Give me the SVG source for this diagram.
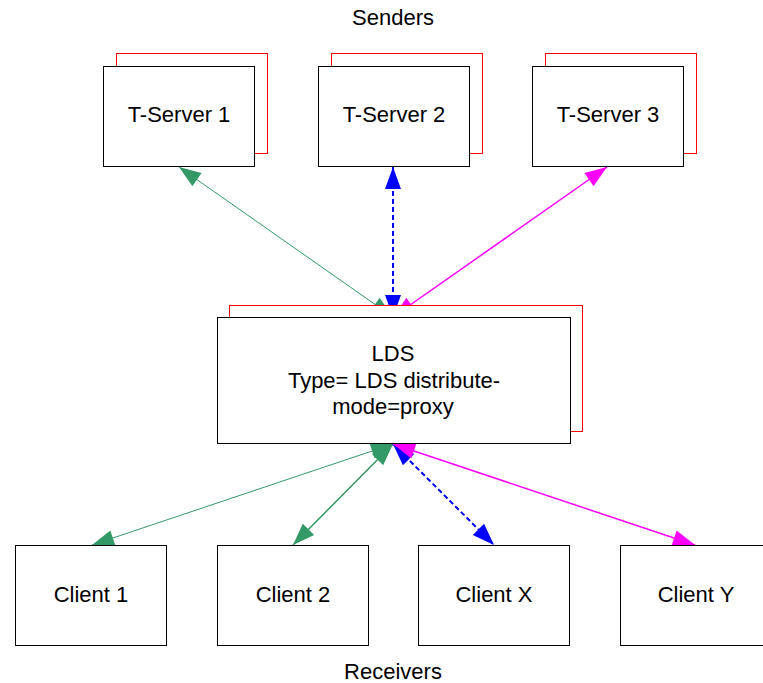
<svg xmlns="http://www.w3.org/2000/svg" width="763" height="683" viewBox="0 0 763 683">
<style>
  text { font-family: "Liberation Sans", Arial, sans-serif; font-size: 22px; fill: #000; text-anchor: middle; }
  .box { fill: #fff; stroke: #000; stroke-width: 1; }
  .shadow { fill: #fff; stroke: #ff0000; stroke-width: 1; }
  .green { stroke: #339966; stroke-width: 1; fill: none; }
  .green2 { stroke: #339966; stroke-width: 1.5; fill: none; }
  .blue { stroke: #0000ff; stroke-width: 2; stroke-dasharray: 5 3; fill: none; }
  .magenta { stroke: #ff00ff; stroke-width: 1.5; fill: none; }
</style>
<defs>
  <marker id="ag" markerUnits="userSpaceOnUse" markerWidth="24" markerHeight="16" viewBox="0 0 22 16" refX="22" refY="8" orient="auto-start-reverse">
    <path d="M0,0 L22,8 L0,16 Z" fill="#339966"/>
  </marker>
  <marker id="ab" markerUnits="userSpaceOnUse" markerWidth="24" markerHeight="16" viewBox="0 0 22 16" refX="22" refY="8" orient="auto-start-reverse">
    <path d="M0,0 L22,8 L0,16 Z" fill="#0000ff"/>
  </marker>
  <marker id="am" markerUnits="userSpaceOnUse" markerWidth="24" markerHeight="16" viewBox="0 0 22 16" refX="22" refY="8" orient="auto-start-reverse">
    <path d="M0,0 L22,8 L0,16 Z" fill="#ff00ff"/>
  </marker>
</defs>
<rect width="763" height="683" fill="#fff"/>
<text x="393" y="25">Senders</text>
<text x="393" y="679">Receivers</text>

<g id="connectors">
  <line class="green" x1="179" y1="167" x2="393" y2="317" marker-start="url(#ag)" marker-end="url(#ag)"/>
  <line class="blue" x1="393" y1="167" x2="393" y2="317" marker-start="url(#ab)" marker-end="url(#ab)"/>
  <line class="magenta" x1="607" y1="167" x2="393" y2="317" marker-start="url(#am)" marker-end="url(#am)"/>
  <line class="green" x1="393" y1="444" x2="92" y2="545" marker-start="url(#ag)" marker-end="url(#ag)"/>
  <line class="green2" x1="393" y1="444" x2="293" y2="545" marker-start="url(#ag)" marker-end="url(#ag)"/>
  <line class="blue" x1="393" y1="444" x2="494" y2="545" marker-start="url(#ab)" marker-end="url(#ab)"/>
  <line class="magenta" x1="393" y1="444" x2="695" y2="545" marker-start="url(#am)" marker-end="url(#am)"/>
</g>

<g id="tserver1">
  <rect class="shadow" x="116.5" y="53.5" width="151" height="100"/>
  <rect class="box" x="103.5" y="66.5" width="151" height="100"/>
  <text x="179" y="122">T-Server 1</text>
</g>
<g id="tserver2">
  <rect class="shadow" x="331.5" y="53.5" width="151" height="100"/>
  <rect class="box" x="318.5" y="66.5" width="151" height="100"/>
  <text x="394" y="122">T-Server 2</text>
</g>
<g id="tserver3">
  <rect class="shadow" x="545.5" y="53.5" width="151" height="100"/>
  <rect class="box" x="532.5" y="66.5" width="151" height="100"/>
  <text x="608" y="122">T-Server 3</text>
</g>

<g id="lds">
  <rect class="shadow" x="229.5" y="305.5" width="353" height="126"/>
  <rect class="box" x="217.5" y="317.5" width="353" height="126"/>
  <text x="393" y="361">LDS</text>
  <text x="394" y="388">Type= LDS distribute-</text>
  <text x="393" y="414">mode=proxy</text>
</g>

<g id="client1">
  <rect class="box" x="15.5" y="545.5" width="151" height="100"/>
  <text x="91" y="602">Client 1</text>
</g>
<g id="client2">
  <rect class="box" x="217.5" y="545.5" width="151" height="100"/>
  <text x="293" y="602">Client 2</text>
</g>
<g id="clientx">
  <rect class="box" x="418.5" y="545.5" width="151" height="100"/>
  <text x="494" y="602">Client X</text>
</g>
<g id="clienty">
  <rect class="box" x="620.5" y="545.5" width="151" height="100"/>
  <text x="696" y="602">Client Y</text>
</g>
</svg>
